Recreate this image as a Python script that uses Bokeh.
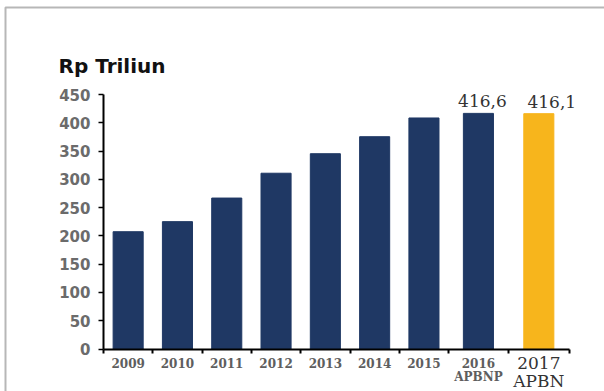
from bokeh.plotting import figure
from bokeh.models import ColumnDataSource, FixedTicker, Range1d, BoxAnnotation
from bokeh.core.properties import value
from bokeh.embed import file_html
from bokeh.resources import INLINE
import numpy as np

# ---- data ----
years = ["2009", "2010", "2011", "2012", "2013", "2014", "2015", "2016", "2017"]
sublabels = ["", "", "", "", "", "", "", "APBNP", "APBN"]
values = [207.4, 225.2, 266.9, 310.8, 345.3, 375.4, 408.5, 416.6, 416.1]
y_ticks = [0, 50, 100, 150, 200, 250, 300, 350, 400, 450]
annotated = ["2016", "2017"]
unit_label = "Rp Triliun"

# ---- layout / style ----
W, H = 604, 391
X0_PX, SLOT_PX = 103.0, 49.3          # pixel of x=0, pixels per slot
Y0_PX, YTOP_PX = 348.5, 94.0          # pixel of y=0 and y=450
Y_MAX = 450
SLOT_WIDTHS = [1, 1, 1, 1, 1, 1, 1, 1.21, 1.24]
BAR_WIDTH = 0.61
NAVY = "#1F3864"
GOLD = "#F7B51C"
LABEL_DX_PX = [4, 13]

ppu_y = (Y0_PX - YTOP_PX) / Y_MAX
def px_x(px):
    return (px - X0_PX) / SLOT_PX
def px_y(py):
    return (Y0_PX - py) / ppu_y
def dy(pxoff):
    return pxoff / ppu_y

edges = np.concatenate([[0], np.cumsum(SLOT_WIDTHS)])
centers = (edges[:-1] + edges[1:]) / 2
total = float(edges[-1])
colors = [GOLD if s == "APBN" else NAVY for s in sublabels]

p = figure(width=W, height=H, output_backend="svg", toolbar_location=None, title=None,
           x_range=Range1d(px_x(0), px_x(W)), y_range=Range1d(px_y(H), px_y(0)),
           min_border=0, min_border_left=0, min_border_right=0,
           min_border_top=0, min_border_bottom=0)
p.outline_line_color = None
p.xgrid.visible = False
p.ygrid.visible = False
p.background_fill_color = "white"
p.border_fill_color = "white"

# outer border box
p.add_layout(BoxAnnotation(left=px_x(5), right=px_x(W + 20), top=px_y(7), bottom=px_y(H + 20),
                           fill_alpha=0, line_color="#111111", line_width=2))

src = ColumnDataSource(dict(x=list(centers), top=values, color=colors))
p.vbar(x="x", top="top", bottom=0, width=BAR_WIDTH, color="color", source=src)

# y axis
ya = p.yaxis[0]
ya.fixed_location = 0
ya.bounds = (0, Y_MAX)
ya.ticker = FixedTicker(ticks=y_ticks)
ya.axis_line_color = "black"
ya.axis_line_width = 2
ya.major_tick_line_color = "black"
ya.major_tick_line_width = 1.5
ya.major_tick_out = 5
ya.major_tick_in = 0
ya.minor_tick_line_color = None
ya.major_label_standoff = 8
ya.major_label_text_font = "DejaVu Sans"
ya.major_label_text_font_style = "bold"
ya.major_label_text_font_size = "15px"
ya.major_label_text_color = "#6b6b6b"

# x axis: line + separator ticks only
xa = p.xaxis[0]
xa.fixed_location = 0
xa.bounds = (0, total)
xa.ticker = FixedTicker(ticks=[], minor_ticks=list(edges))
xa.axis_line_color = "black"
xa.axis_line_width = 2
xa.minor_tick_line_color = "black"
xa.minor_tick_line_width = 2
xa.minor_tick_out = 4
xa.minor_tick_in = 0
xa.major_tick_line_color = None

# title
p.text(x=[px_x(58)], y=[px_y(65)], text=[unit_label], text_align="left", text_baseline="middle",
       text_font=value("DejaVu Sans"), text_font_style=value("bold"),
       text_font_size=value("20px"), text_color=value("#111111"))

# x category labels
big = [s == "APBN" for s in sublabels]
lab_src = ColumnDataSource(dict(
    x=list(centers), y=[px_y(Y0_PX + 14)] * len(years), text=years,
    size=["17px" if b else "12px" for b in big],
    style=["normal" if b else "bold" for b in big],
    color=["#333333" if b else "#5e5e5e" for b in big],
))
p.text(x="x", y="y", text="text", source=lab_src, text_align="center", text_baseline="middle",
       text_font=value("DejaVu Serif"), text_font_size="size", text_font_style="style",
       text_color="color")
sub_src = ColumnDataSource(dict(
    x=list(centers), y=[px_y(Y0_PX + (32 if b else 28)) for b in big], text=sublabels,
    size=["17px" if b else "12px" for b in big],
    style=["normal" if b else "bold" for b in big],
    color=["#333333" if b else "#5e5e5e" for b in big],
))
p.text(x="x", y="y", text="text", source=sub_src, text_align="center", text_baseline="middle",
       text_font=value("DejaVu Serif"), text_font_size="size", text_font_style="style",
       text_color="color")

# value labels
idx = [years.index(a) for a in annotated]
val_src = ColumnDataSource(dict(
    x=[centers[i] + d / SLOT_PX for i, d in zip(idx, LABEL_DX_PX)],
    y=[values[i] + dy(6) for i in idx],
    text=[f"{values[i]:.1f}".replace(".", ",") for i in idx],
))
p.text(x="x", y="y", text="text", source=val_src, text_align="center", text_baseline="bottom",
       text_font=value("DejaVu Serif"), text_font_size=value("17px"),
       text_color=value("#333333"))

open("out.html", "w").write(file_html(p, INLINE))
